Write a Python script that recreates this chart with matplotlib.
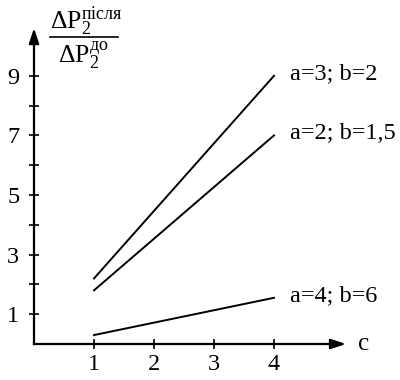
import matplotlib.pyplot as plt
from matplotlib.lines import Line2D

plt.rcParams["font.family"] = ["Liberation Serif", "DejaVu Serif"]
plt.rcParams["mathtext.fontset"] = "custom"
plt.rcParams["mathtext.rm"] = "Liberation Serif"
plt.rcParams["mathtext.it"] = "Liberation Serif:italic"

# c values and loss ratio for each (a, b) pair
c_values = [1, 4]
ratio_a3_b2 = [2.2, 9.0]
ratio_a2_b15 = [1.8, 7.0]
ratio_a4_b6 = [0.3, 1.55]
series_labels = ["a=3; b=2", "a=2; b=1,5", "a=4; b=6"]

x_ticks = [1, 2, 3, 4]
y_major_ticks = [1, 3, 5, 7, 9]
y_minor_ticks = [2, 4, 6, 8]

fig = plt.figure(figsize=(4.0, 3.8), dpi=100)
ax = fig.add_axes([0, 0, 1, 1])
ax.set_xlim(-34 / 60, 366 / 60)
ax.set_ylim(-36 / 29.8, 344 / 29.8)

for y_vals, label in zip([ratio_a3_b2, ratio_a2_b15, ratio_a4_b6], series_labels):
    ax.plot(c_values, y_vals, color="black", linewidth=1.4)
    ax.text(c_values[-1] + 0.27, y_vals[-1] + 0.08, label, fontsize=17.5,
            va="center", ha="left")

# axes drawn as arrows through the origin
for side in ["top", "right"]:
    ax.spines[side].set_visible(False)
for side in ["left", "bottom"]:
    ax.spines[side].set_position(("data", 0))
    ax.spines[side].set_linewidth(1.6)
ax.spines["left"].set_bounds(0, 10.4)
ax.spines["bottom"].set_bounds(0, 5.0)

ax.annotate("", xy=(5.2, 0), xytext=(4.9, 0),
            arrowprops=dict(arrowstyle="-|>,head_length=0.9,head_width=0.3",
                            color="black", lw=1.6, shrinkA=0, shrinkB=0))
ax.annotate("", xy=(0, 10.6), xytext=(0, 10.2),
            arrowprops=dict(arrowstyle="-|>,head_length=0.9,head_width=0.3",
                            color="black", lw=1.6, shrinkA=0, shrinkB=0))

ax.set_xticks(x_ticks)
ax.set_yticks(y_major_ticks)
ax.set_yticks(y_minor_ticks, minor=True)
ax.tick_params(axis="both", which="both", direction="inout", length=7,
               width=1.2, labelsize=17.5)
ax.tick_params(axis="x", pad=4)
ax.tick_params(axis="y", pad=7)

ax.text(5.5, 0, "c", fontsize=18, va="center", ha="center")

# y-axis caption as a stacked fraction
fig.text(50 / 400, 1 - 29 / 380, r"$\mathrm{\Delta P}_2^{\mathrm{після}}$",
         fontsize=18.5, ha="left", va="baseline")
fig.text(58 / 400, 1 - 63 / 380, r"$\mathrm{\Delta P}_2^{\mathrm{до}}$",
         fontsize=18.5, ha="left", va="baseline")
fig.add_artist(Line2D([50 / 400, 118 / 400], [1 - 37 / 380, 1 - 37 / 380],
                      transform=fig.transFigure, color="black", linewidth=1.2))

fig.savefig("out.png", dpi=100)
